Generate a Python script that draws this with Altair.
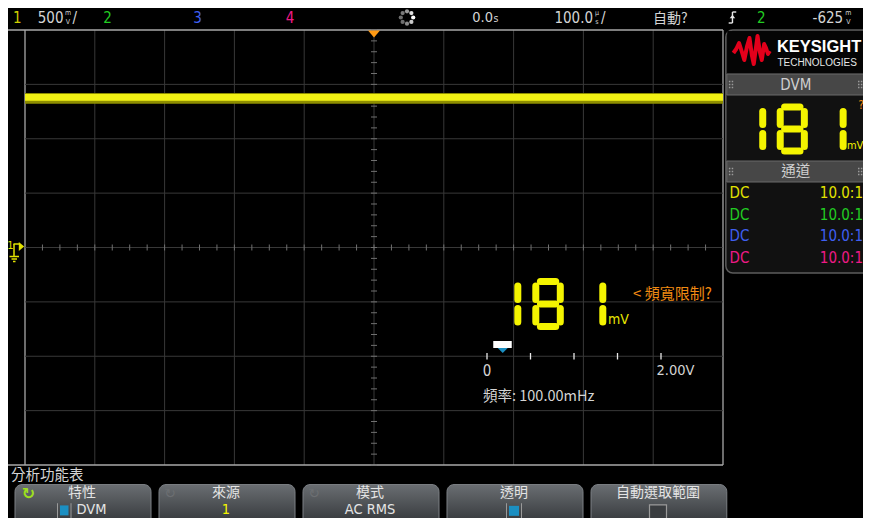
import math
import altair as alt
import pandas as pd

# ------------------------------------------------------------------
# Values read from the reference screen
# ------------------------------------------------------------------
channel_names = ["1", "2", "3", "4"]
channel_colors = ["#e2e200", "#22cc22", "#3f5ff0", "#ee1a86"]
channel_coupling = ["DC", "DC", "DC", "DC"]
channel_probe = ["10.0:1", "10.0:1", "10.0:1", "10.0:1"]

ch1_scale_text = "500"          # mV / div
ch1_volts_per_div = 0.5
time_ref_text = "0.0"           # s
time_div_text = "100.0"         # µs / div
trigger_mode_text = "自動?"
trigger_source_text = "2"
trigger_level_text = "-625"     # mV

ch1_trace_core_v = [1.350, 1.412]     # bright part of the noisy flat trace
ch1_trace_spread_v = [1.322, 1.420]   # dim fringe of the trace

dvm_digits = ["1", "8", "1"]
dvm_unit = "mV"
dvm_reading_v = 0.181
dvm_bar_ticks_v = [0.0, 0.5, 1.0, 1.5, 2.0]
dvm_bar_min_label = "0"
dvm_bar_max_label = "2.00V"
dvm_freq_text = "頻率: 100.00mHz"
dvm_warning_text = "< 頻寬限制?"

menu_title = "分析功能表"
softkey_titles = ["特性", "來源", "模式", "透明", "自動選取範圍"]
softkey_values = ["DVM", "1", "AC RMS", "", ""]

h_divs, v_divs = 10, 8
h_minor, v_minor = 4, 5

# ------------------------------------------------------------------
# Layout (screen pixels of the page) and styles
# ------------------------------------------------------------------
W, H = 855, 510
OX, OY = 8, 8
GL, GR, GT, GB = 25, 723, 30, 465
CX, CY = (GL + GR) / 2, (GT + GB) / 2
PXD = (GR - GL) / h_divs
PYD = (GB - GT) / v_divs
# the side panel and the soft-key strip are squeezed slightly so they fit
REF_R, REF_B = 871, 526


def sx(px):
    return px if px <= GR else GR + (px - GR) * (OX + W - GR) / (REF_R - GR)


def sy(py):
    return py if py <= GB else GB + (py - GB) * (OY + H - GB) / (REF_B - GB)


def Xraw(p):
    return (p - CX) / PXD


def Yraw(p):
    return (CY - p) / PYD


def X(px):
    return Xraw(sx(px))


def Y(py):
    return Yraw(sy(py))


NARROW = "Liberation Sans Narrow, DejaVu Sans Condensed, Noto Sans CJK TC, sans-serif"
CJK = "Noto Sans CJK TC, Liberation Sans Narrow, sans-serif"
BOLD = "Liberation Sans, Arial, sans-serif"
GRAY = "#d4d4d4"
FRAME = "#a8a8a8"
GRID = "#383838"
MINOR = "#707070"
YEL = "#f4f400"
ORANGE = "#f08a12"
CYAN = "#1b8fc2"

rules, segs, rects, rrects, pts, texts, logo = [], [], [], [], [], [], []


def R(x1, y1, x2, y2, c, w=1.0, store=None):
    (rules if store is None else store).append(
        dict(x=X(x1), y=Y(y1), x2=X(x2), y2=Y(y2), c=c, w=w))


def T(x, y, t, c=GRAY, s=15, align="left", font=NARROW, weight="normal"):
    texts.append(dict(x=X(x), y=Y(y), t=t, c=c, s=s, align=align,
                      font=font, weight=weight))


# ---- graticule -----------------------------------------------------
for k in range(h_divs + 1):
    d = -h_divs / 2 + k
    edge = k in (0, h_divs)
    rules.append(dict(x=d, y=-v_divs / 2, x2=d, y2=v_divs / 2,
                      c=FRAME if edge else GRID, w=1.3 if edge else 1))
for k in range(v_divs + 1):
    d = -v_divs / 2 + k
    edge = k in (0, v_divs)
    rules.append(dict(x=X(OX) if edge else -h_divs / 2, y=d, x2=h_divs / 2, y2=d,
                      c=FRAME if edge else GRID, w=1.3 if edge else 1))
for i in range(h_divs * h_minor + 1):
    d = -h_divs / 2 + i / h_minor
    rules.append(dict(x=d, y=-3 / PYD, x2=d, y2=3 / PYD, c=MINOR, w=1))
for i in range(v_divs * v_minor + 1):
    d = -v_divs / 2 + i / v_minor
    rules.append(dict(x=-3 / PXD, y=d, x2=3 / PXD, y2=d, c=MINOR, w=1))

# ---- channel 1 trace (flat, noisy) --------------------------------
trace = pd.DataFrame([
    dict(x=-h_divs / 2, x2=h_divs / 2,
         y=ch1_trace_spread_v[0] / ch1_volts_per_div,
         y2=ch1_trace_spread_v[1] / ch1_volts_per_div, c="#8e8e00"),
    dict(x=-h_divs / 2, x2=h_divs / 2,
         y=ch1_trace_core_v[0] / ch1_volts_per_div,
         y2=ch1_trace_core_v[1] / ch1_volts_per_div, c="#f2f214"),
])

# ---- ground / channel marker on the left ----------------------------
T(10.5, 246, "1", channel_colors[0], 11, "center")
R(14, 244, 14, 256, channel_colors[0], 1.5)
R(13.5, 244, 19, 244, channel_colors[0], 1.5)
R(9.5, 256.5, 19, 256.5, channel_colors[0], 1.5)
R(11.5, 259, 17, 259, channel_colors[0], 1.5)
R(13, 261.5, 15.5, 261.5, channel_colors[0], 1.5)
pts.append(dict(x=X(21.5), y=Y(246.5), shape="M-0.6,-1L0.6,0L-0.6,1Z", s=81,
                c=channel_colors[0]))

# ---- trigger position marker ---------------------------------------
pts.append(dict(x=X(CX), y=Y(34), shape="M-1,-0.6L1,-0.6L0,0.6Z", s=144, c="#ff9a14"))

# ---- top status bar -----------------------------------------------
TY = 17.5
T(13, TY, channel_names[0], "#cfcf00", 15)
T(63.5, TY, ch1_scale_text, GRAY, 15, "right")
T(68, 13, "m", GRAY, 7, "center")
T(68, 21.5, "V", GRAY, 7, "center")
T(72.5, TY, "/", GRAY, 15)
T(107.5, TY, channel_names[1], channel_colors[1], 15, "center")
T(197.5, TY, channel_names[2], channel_colors[2], 15, "center")
T(290, TY, channel_names[3], channel_colors[3], 15, "center")
for i in range(8):
    a = 2 * math.pi * i / 8
    pts.append(dict(x=X(407 + 6.2 * math.cos(a)), y=Y(17.5 + 6.2 * math.sin(a)),
                    shape="circle", s=18,
                    c=["#ffffff", "#c8c8c8", "#8a8a8a", "#6e6e6e",
                       "#6e6e6e", "#7a7a7a", "#9a9a9a", "#e0e0e0"][i]))
T(493, TY, time_ref_text, GRAY, 14.5, "right")
T(493.5, 19, "s", GRAY, 10.5)
T(593, TY, time_div_text, GRAY, 15, "right")
T(597, 13, "µ", GRAY, 7, "center")
T(597, 21.5, "s", GRAY, 7, "center")
T(601, TY, "/", GRAY, 15)
T(653, 18.5, trigger_mode_text, GRAY, 14, font=CJK)
R(729, 23, 733, 23, "#e8e8e8", 1.4)
R(733, 23, 733, 12, "#e8e8e8", 1.4)
R(733, 12, 737, 12, "#e8e8e8", 1.4)
pts.append(dict(x=X(733), y=Y(16.5), shape="M-1,0.6L1,0.6L0,-0.6Z", s=30, c="#e8e8e8"))
T(763.5, TY, trigger_source_text, channel_colors[1], 15, "center")
T(850, TY, trigger_level_text, GRAY, 15, "right")
T(855.5, 13, "m", GRAY, 7, "center")
T(855.5, 21.5, "V", GRAY, 7, "center")

# ---- right side panel ----------------------------------------------
rrects.append(dict(x=X(726), x2=X(885), y=Y(30), y2=Y(273), c="#111111",
                   sc="#5c5c5c", sw=1.5))
rects.append(dict(x=X(727), x2=X(885), y=Y(74), y2=Y(95), c="#474747", sc="#6a6a6a", sw=1))
rects.append(dict(x=X(727), x2=X(885), y=Y(161), y2=Y(182), c="#474747", sc="#6a6a6a", sw=1))
rects.append(dict(x=X(727.5), x2=X(885), y=Y(31), y2=Y(73), c="#050505", sc="#050505", sw=0))
logo_pts = [(734, 53), (737, 49), (740, 43), (743, 52), (745.5, 60), (748.5, 46),
            (751, 38), (753.5, 55), (755.5, 64), (757.5, 50), (759.5, 36),
            (762, 52), (764, 60), (766.5, 44), (768.5, 48), (770.5, 54), (772.5, 51)]
for i, (lx, ly) in enumerate(logo_pts):
    logo.append(dict(x=X(lx), y=Y(ly), o=i))
T(780, 46.5, "KEYSIGHT", "#ffffff", 16.5, font=BOLD, weight="bold")
T(780.5, 62.5, "TECHNOLOGIES", "#e6e6e6", 10, font=BOLD)
T(800, 84.5, "DVM", "#cfcfcf", 15, "center")
T(800, 171.5, "通道", "#cfcfcf", 14.5, "center", font=CJK)
for gy in (84.5, 171.5):
    for gx in (731.5, 868):
        for dx in (-1.5, 1.5):
            for dy in (-3, 0, 3):
                pts.append(dict(x=X(gx + dx), y=Y(gy + dy), shape="square", s=2.2,
                                c="#9a9a9a"))
for i in range(4):
    ry = 193 + i * 21.5
    T(730, ry, channel_coupling[i], channel_colors[i], 15)
    T(871, ry, channel_probe[i], channel_colors[i], 15, "right")
T(854, 146, dvm_unit, YEL, 11)
T(866, 105, "?", ORANGE, 12)

# ---- seven-segment readouts ------------------------------------------
SEG_MAP = {"0": "abcdef", "1": "bc", "2": "abged", "3": "abgcd", "4": "fgbc",
           "5": "afgcd", "6": "afgedc", "7": "abc", "8": "abcdefg", "9": "abcdfg"}


def seven(ch, left, top, w, h, gap=4.6):
    mid, bot, right = top + h / 2, top + h, left + w
    geo = {"a": (left + gap, top, right - gap, top),
           "g": (left + gap, mid, right - gap, mid),
           "d": (left + gap, bot, right - gap, bot),
           "f": (left, top + gap, left, mid - gap),
           "e": (left, mid + gap, left, bot - gap),
           "b": (right, top + gap, right, mid - gap),
           "c": (right, mid + gap, right, bot - gap)}
    for sname in SEG_MAP[ch]:
        x1, y1, x2, y2 = geo[sname]
        R(x1, y1, x2, y2, YEL, 7, store=segs)


for ch, lx in zip(dvm_digits, [493.3, 535.8, 578.3]):
    seven(ch, lx, 281.5, 24.5, 45)
for ch, lx in zip(dvm_digits, [739.5, 783.5, 824.5]):
    seven(ch, lx, 107, 25.5, 44)
T(608, 320, dvm_unit, "#e8e800", 14)
T(633, 294, dvm_warning_text, ORANGE, 15, font=CJK)

# ---- DVM bar ----------------------------------------------------------
BAR0, BAR1 = 487, 661


def bar_px(v):
    return BAR0 + (v - dvm_bar_ticks_v[0]) / (dvm_bar_ticks_v[-1] - dvm_bar_ticks_v[0]) * (BAR1 - BAR0)


for v in dvm_bar_ticks_v:
    R(bar_px(v), 353, bar_px(v), 359.5, "#e8e8e8", 1.3)
mx = bar_px(dvm_reading_v)
rects.append(dict(x=X(mx - 9.5), x2=X(mx + 9), y=Y(341), y2=Y(348), c="#ffffff",
                  sc="#ffffff", sw=0))
pts.append(dict(x=X(mx), y=Y(350.5), shape="M-1,-0.5L1,-0.5L0,0.5Z", s=100, c=CYAN))
T(bar_px(dvm_bar_ticks_v[0]), 371, dvm_bar_min_label, GRAY, 15, "center")
T(656.5, 371, dvm_bar_max_label, GRAY, 14.5)
T(483, 397, dvm_freq_text, GRAY, 14.5, font=CJK)

# ---- soft-key menu ------------------------------------------------------
T(11, 477.5, menu_title, GRAY, 14.5, font=CJK)
btn_edges = [(15, 151), (159, 295), (303, 439), (447, 583), (591, 727)]
buttons = []
for (bx1, bx2) in btn_edges:
    buttons.append(dict(x=X(bx1), x2=X(bx2), y=Y(487.5), y2=Y(540)))
for i, (bx1, bx2) in enumerate(btn_edges):
    cx = (bx1 + bx2) / 2
    T(cx - 1, 497, softkey_titles[i], "#e4e4e4", 14, "center", font=CJK)
T(28.5, 498.5, "↻", "#9ee01c", 16, "center", font="DejaVu Sans", weight="bold")
T(170, 498.5, "↻", "#6c6f72", 14, "center", font="DejaVu Sans")
T(314, 498.5, "↻", "#6c6f72", 14, "center", font="DejaVu Sans")
# values row
VY = 517
T(76.5, VY, softkey_values[0], "#e4e4e4", 14.5)
rects.append(dict(x=X(60), x2=X(68.5), y=Y(511.5), y2=Y(523), c=CYAN, sc=CYAN, sw=0))
R(57.5, 509, 57.5, 526, "#9a9a9a", 1)
R(71, 509, 71, 526, "#9a9a9a", 1)
T(226, VY, softkey_values[1], YEL, 14.5, "center")
T(370, VY, softkey_values[2], "#e4e4e4", 14.5, "center")
rects.append(dict(x=X(509), x2=X(519), y=Y(512), y2=Y(523.5), c=CYAN, sc=CYAN, sw=0))
R(506.5, 509, 506.5, 526, "#9a9a9a", 1)
R(521.5, 509, 521.5, 526, "#9a9a9a", 1)
box = pd.DataFrame([dict(x=X(649.5), x2=X(666.5), y=Y(511), y2=Y(535))])

# ------------------------------------------------------------------
# Chart
# ------------------------------------------------------------------
xs = alt.Scale(domain=[Xraw(OX), Xraw(OX + W)], nice=False, zero=False)
ys = alt.Scale(domain=[Yraw(OY + H), Yraw(OY)], nice=False, zero=False)


def xy(two=False):
    e = dict(x=alt.X("x:Q", scale=xs, axis=None), y=alt.Y("y:Q", scale=ys, axis=None))
    if two:
        e.update(x2="x2:Q", y2="y2:Q")
    return e


layers = []
layers.append(alt.Chart(pd.DataFrame([rrects[0]])).mark_rect(cornerRadius=7).encode(
    **xy(True), color=alt.Color("c:N", scale=None), stroke=alt.Stroke("sc:N", scale=None),
    strokeWidth=alt.StrokeWidth("sw:Q", scale=None)))
layers.append(alt.Chart(pd.DataFrame(rules)).mark_rule(strokeCap="butt").encode(
    **xy(True), color=alt.Color("c:N", scale=None), size=alt.Size("w:Q", scale=None)))
layers.append(alt.Chart(trace).mark_rect().encode(
    **xy(True), color=alt.Color("c:N", scale=None)))
layers.append(alt.Chart(pd.DataFrame(rects)).mark_rect().encode(
    **xy(True), color=alt.Color("c:N", scale=None), stroke=alt.Stroke("sc:N", scale=None),
    strokeWidth=alt.StrokeWidth("sw:Q", scale=None)))
layers.append(alt.Chart(pd.DataFrame(logo)).mark_line(
    color="#e3001b", strokeWidth=4, strokeJoin="round").encode(**xy(), order="o:Q"))
layers.append(alt.Chart(pd.DataFrame(segs)).mark_rule(strokeCap="round").encode(
    **xy(True), color=alt.Color("c:N", scale=None), size=alt.Size("w:Q", scale=None)))
grad = alt.Gradient(gradient="linear",
                    stops=[alt.GradientStop(color="#6a6e72", offset=0),
                           alt.GradientStop(color="#2a2d30", offset=1)],
                    x1=0, x2=0, y1=0, y2=1)
layers.append(alt.Chart(pd.DataFrame(buttons)).mark_rect(
    cornerRadius=7, fill=grad, stroke="#7c8085", strokeWidth=1).encode(**xy(True)))
layers.append(alt.Chart(box).mark_rect(fill="#3a3d40", stroke="#9a9a9a",
                                       strokeWidth=1.2).encode(**xy(True)))
# small marks that sit on top of the soft keys
layers.append(alt.Chart(pd.DataFrame(rules[-4:])).mark_rule().encode(
    **xy(True), color=alt.Color("c:N", scale=None), size=alt.Size("w:Q", scale=None)))
layers.append(alt.Chart(pd.DataFrame(rects[-2:])).mark_rect().encode(
    **xy(True), color=alt.Color("c:N", scale=None)))
layers.append(alt.Chart(pd.DataFrame(pts)).mark_point(filled=True, opacity=1).encode(
    **xy(), shape=alt.Shape("shape:N", scale=None), size=alt.Size("s:Q", scale=None),
    color=alt.Color("c:N", scale=None)))
tdf = pd.DataFrame(texts)
for (al, fo, we), g in tdf.groupby(["align", "font", "weight"]):
    layers.append(alt.Chart(g.drop(columns=["align", "font", "weight"])).mark_text(
        align=al, baseline="middle", font=fo, fontWeight=we).encode(
        **xy(), text="t:N", color=alt.Color("c:N", scale=None),
        size=alt.Size("s:Q", scale=None)))

chart = alt.layer(*layers).properties(
    width=W, height=H, background="#000000", padding=0,
    autosize=alt.AutoSizeParams(type="none"),
).configure_view(stroke=None)

chart.save("out.html", embed_options={"renderer": "svg", "actions": False})
